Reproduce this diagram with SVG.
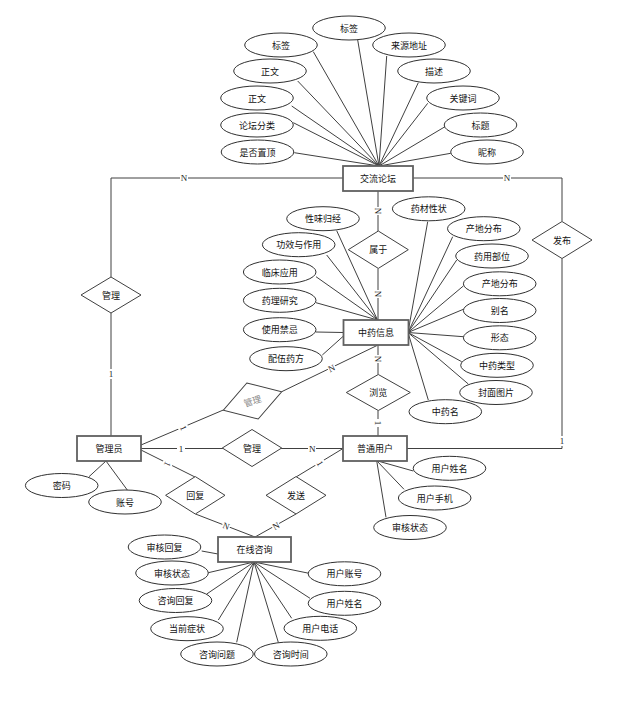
<svg xmlns="http://www.w3.org/2000/svg" width="637" height="707" viewBox="0 0 637 707">
<style>
.bg{fill:#ffffff}
.ln{stroke:#404040;stroke-width:1;fill:none}
.ent{fill:#ffffff;stroke:#606060;stroke-width:1.8}
.att{fill:#ffffff;stroke:#303030;stroke-width:1}
.rel{fill:#ffffff;stroke:#404040;stroke-width:1}
.t{font-family:"Noto Sans CJK SC","Noto Sans",sans-serif;font-size:9px;fill:#111;text-anchor:middle;dominant-baseline:central}
.g{fill:#8a8a8a}
.c{font-family:"Liberation Serif",serif;font-size:9px;fill:#222;text-anchor:middle;dominant-baseline:central}
.cb{fill:#ffffff}
</style>
<rect class="bg" x="0" y="0" width="637" height="707"/>
<g id="connectors">
<polyline class="ln" points="343,178 111,178 111,277"/>
<line class="ln" x1="111" y1="313" x2="111" y2="436"/>
<polyline class="ln" points="413,178 562,178 562,221"/>
<polyline class="ln" points="562,258.5 562,448.5 407,448.5"/>
<line class="ln" x1="378" y1="191" x2="378" y2="231"/>
<line class="ln" x1="378" y1="268.5" x2="378" y2="320"/>
<line class="ln" x1="378" y1="345" x2="378" y2="374.5"/>
<line class="ln" x1="378" y1="410.5" x2="378" y2="436"/>
<line class="ln" x1="377" y1="345.5" x2="281.7" y2="391.7"/>
<line class="ln" x1="141" y1="445" x2="223.3" y2="410"/>
<line class="ln" x1="141" y1="448.5" x2="343" y2="448.5"/>
<line class="ln" x1="141" y1="450" x2="195" y2="477"/>
<line class="ln" x1="195.5" y1="514" x2="255" y2="537"/>
<line class="ln" x1="343" y1="448.5" x2="296" y2="477"/>
<line class="ln" x1="296" y1="514" x2="255" y2="537"/>
<!-- forum attributes -->
<line class="ln" x1="357.7" y1="40" x2="379" y2="166"/>
<line class="ln" x1="313.3" y1="51.7" x2="379" y2="166"/>
<line class="ln" x1="386.7" y1="56" x2="379" y2="166"/>
<line class="ln" x1="297.7" y1="81" x2="379" y2="166"/>
<line class="ln" x1="418.3" y1="82.7" x2="379" y2="166"/>
<line class="ln" x1="291.7" y1="106" x2="379" y2="166"/>
<line class="ln" x1="427.7" y1="103.3" x2="379" y2="166"/>
<line class="ln" x1="293.3" y1="122.7" x2="379" y2="166"/>
<line class="ln" x1="445" y1="126.7" x2="379" y2="166"/>
<line class="ln" x1="294.3" y1="152.7" x2="379" y2="166"/>
<line class="ln" x1="450.7" y1="153.3" x2="379" y2="166"/>
<!-- medicine attributes -->
<line class="ln" x1="336.7" y1="230.7" x2="377.5" y2="320"/>
<line class="ln" x1="326.7" y1="255" x2="377.5" y2="320"/>
<line class="ln" x1="316" y1="276.7" x2="377.5" y2="320"/>
<line class="ln" x1="316" y1="302.7" x2="377.5" y2="320"/>
<line class="ln" x1="316" y1="332" x2="343.5" y2="332.5"/>
<line class="ln" x1="322.3" y1="355" x2="343.5" y2="336"/>
<line class="ln" x1="427.7" y1="221.7" x2="408" y2="332.5"/>
<line class="ln" x1="452.7" y1="236.7" x2="408" y2="332.5"/>
<line class="ln" x1="456.7" y1="260" x2="408" y2="332.5"/>
<line class="ln" x1="463.3" y1="286" x2="408" y2="332.5"/>
<line class="ln" x1="463.3" y1="309.3" x2="408" y2="332.5"/>
<line class="ln" x1="463.3" y1="336.7" x2="408" y2="332.5"/>
<line class="ln" x1="461.7" y1="361.7" x2="408" y2="332.5"/>
<line class="ln" x1="468.3" y1="384" x2="408" y2="332.5"/>
<line class="ln" x1="428.3" y1="400" x2="408" y2="332.5"/>
<!-- user attributes -->
<line class="ln" x1="413.3" y1="471" x2="376.7" y2="460.7"/>
<line class="ln" x1="404" y1="489.3" x2="376.7" y2="460.7"/>
<line class="ln" x1="386" y1="517.3" x2="376.7" y2="460.7"/>
<!-- admin attributes -->
<line class="ln" x1="89" y1="476.7" x2="106" y2="461"/>
<line class="ln" x1="127.3" y1="490" x2="106" y2="461"/>
<!-- consult attributes -->
<line class="ln" x1="201.7" y1="551" x2="218" y2="554"/>
<line class="ln" x1="208.3" y1="572.7" x2="254" y2="562"/>
<line class="ln" x1="206.7" y1="594" x2="254" y2="562"/>
<line class="ln" x1="218.3" y1="620" x2="254" y2="562"/>
<line class="ln" x1="236.7" y1="642.3" x2="254" y2="562"/>
<line class="ln" x1="278.3" y1="642.3" x2="254" y2="562"/>
<line class="ln" x1="291.7" y1="618.3" x2="254" y2="562"/>
<line class="ln" x1="310" y1="598.3" x2="254" y2="562"/>
<line class="ln" x1="309" y1="573.3" x2="254" y2="562"/>
<!-- cardinality labels -->
<g>
<rect class="cb" x="180" y="173" width="8" height="10"/><text class="c" x="184" y="178">N</text>
<rect class="cb" x="503" y="173" width="8" height="10"/><text class="c" x="507" y="178">N</text>
<rect class="cb" x="107" y="369" width="8" height="10"/><text class="c" x="111" y="374">1</text>
<rect class="cb" x="558" y="436" width="8" height="10"/><text class="c" x="562" y="441">1</text>
<rect class="cb" x="373" y="207" width="10" height="8"/><text class="c" transform="rotate(90 378 211)" x="378" y="211">N</text>
<rect class="cb" x="373" y="290" width="10" height="8"/><text class="c" transform="rotate(90 378 294)" x="378" y="294">N</text>
<rect class="cb" x="373" y="355" width="10" height="8"/><text class="c" transform="rotate(90 378 359)" x="378" y="359">N</text>
<rect class="cb" x="373" y="419" width="10" height="8"/><text class="c" transform="rotate(90 378 423)" x="378" y="423">1</text>
<g transform="rotate(-25.8 331.7 368.3)"><rect class="cb" x="327.7" y="363.3" width="8" height="10"/><text class="c" x="331.7" y="368.3">N</text></g>
<g transform="rotate(67 183.3 428)"><rect class="cb" x="179.3" y="423" width="8" height="10"/><text class="c" x="183.3" y="428">1</text></g>
<rect class="cb" x="177" y="443.5" width="8" height="10"/><text class="c" x="181" y="448.5">1</text>
<rect class="cb" x="308" y="443.5" width="8" height="10"/><text class="c" x="312.3" y="448.5">N</text>
<g transform="rotate(116.6 167.3 464)"><rect class="cb" x="163.3" y="459" width="8" height="10"/><text class="c" x="167.3" y="464">1</text></g>
<g transform="rotate(21 226 526)"><rect class="cb" x="222" y="521" width="8" height="10"/><text class="c" x="226" y="526">N</text></g>
<g transform="rotate(-29.3 276 526)"><rect class="cb" x="272" y="521" width="8" height="10"/><text class="c" x="276" y="526">N</text></g>
<g transform="rotate(59 320 463.3)"><rect class="cb" x="316" y="458.3" width="8" height="10"/><text class="c" x="320" y="463.3">1</text></g>
</g>
</g>
<!-- entities -->
<g id="forum"><rect class="ent" x="343" y="166" width="70" height="25"/><text class="t" x="378" y="178.5">交流论坛</text></g>
<g id="medicine"><rect class="ent" x="343.5" y="320" width="65" height="25"/><text class="t" x="376" y="332.5">中药信息</text></g>
<g id="user"><rect class="ent" x="343" y="436" width="64" height="25"/><text class="t" x="375" y="448.5">普通用户</text></g>
<g id="admin"><rect class="ent" x="77" y="436" width="64" height="25"/><text class="t" x="109" y="448.5">管理员</text></g>
<g id="consult"><rect class="ent" x="218" y="537" width="73" height="25"/><text class="t" x="254.5" y="549.5">在线咨询</text></g>
<!-- relationships -->
<g id="rel-manage-forum"><polygon class="rel" points="111,277 141,295 111,313 81,295"/><text class="t" x="111" y="295">管理</text></g>
<g id="rel-publish"><polygon class="rel" points="562,221.5 592,240 562,258.5 532,240"/><text class="t" x="562" y="240">发布</text></g>
<g id="rel-belong"><polygon class="rel" points="378.3,231 408.3,249.7 378.3,268.4 348.3,249.7"/><text class="t" x="378.3" y="249.7">属于</text></g>
<g id="rel-browse"><polygon class="rel" points="378.3,374.5 410.3,392.5 378.3,410.5 346.3,392.5"/><text class="t" x="378.3" y="392.5">浏览</text></g>
<g id="rel-manage-med" transform="rotate(-17.5 252.5 401)"><polygon class="rel" points="252.5,382.1 283.1,401 252.5,419.9 221.9,401"/><text class="t g" x="252.5" y="401">管理</text></g>
<g id="rel-manage-user"><polygon class="rel" points="252,429.5 281.7,448 252,466.5 222.3,448"/><text class="t" x="252" y="448">管理</text></g>
<g id="rel-reply"><polygon class="rel" points="195.3,476.6 225,495.3 195.3,514 165.6,495.3"/><text class="t" x="195.3" y="495.3">回复</text></g>
<g id="rel-send"><polygon class="rel" points="296,476.6 326,495.3 296,514 266,495.3"/><text class="t" x="296" y="495.3">发送</text></g>
<!-- forum attributes -->
<g id="fa1"><ellipse class="att" cx="349" cy="28" rx="36.3" ry="12"/><text class="t" x="349" y="28">标签</text></g>
<g id="fa2"><ellipse class="att" cx="281" cy="45" rx="36.3" ry="12"/><text class="t" x="281" y="45">标签</text></g>
<g id="fa3"><ellipse class="att" cx="409" cy="45" rx="36.3" ry="12"/><text class="t" x="409" y="45">来源地址</text></g>
<g id="fa4"><ellipse class="att" cx="270" cy="71" rx="36.3" ry="12"/><text class="t" x="270" y="71">正文</text></g>
<g id="fa5"><ellipse class="att" cx="434" cy="71" rx="36.3" ry="12"/><text class="t" x="434" y="71">描述</text></g>
<g id="fa6"><ellipse class="att" cx="257" cy="98" rx="36.3" ry="12"/><text class="t" x="257" y="98">正文</text></g>
<g id="fa7"><ellipse class="att" cx="463" cy="98" rx="36.3" ry="12"/><text class="t" x="463" y="98">关键词</text></g>
<g id="fa8"><ellipse class="att" cx="257" cy="125" rx="36.3" ry="12"/><text class="t" x="257" y="125">论坛分类</text></g>
<g id="fa9"><ellipse class="att" cx="480.5" cy="125" rx="36.3" ry="12"/><text class="t" x="480.5" y="125">标题</text></g>
<g id="fa10"><ellipse class="att" cx="257.5" cy="152" rx="36.3" ry="12"/><text class="t" x="257.5" y="152">是否置顶</text></g>
<g id="fa11"><ellipse class="att" cx="487" cy="152" rx="36.3" ry="12"/><text class="t" x="487" y="152">昵称</text></g>
<!-- medicine attributes -->
<g id="ma1"><ellipse class="att" cx="323" cy="218.7" rx="36.3" ry="12"/><text class="t" x="323" y="218.7">性味归经</text></g>
<g id="ma2"><ellipse class="att" cx="298.7" cy="244.7" rx="36.3" ry="12"/><text class="t" x="298.7" y="244.7">功效与作用</text></g>
<g id="ma3"><ellipse class="att" cx="279.7" cy="272" rx="36.3" ry="12"/><text class="t" x="279.7" y="272">临床应用</text></g>
<g id="ma4"><ellipse class="att" cx="279.7" cy="300.3" rx="36.3" ry="12"/><text class="t" x="279.7" y="300.3">药理研究</text></g>
<g id="ma5"><ellipse class="att" cx="279.7" cy="329.7" rx="36.3" ry="12"/><text class="t" x="279.7" y="329.7">使用禁忌</text></g>
<g id="ma6"><ellipse class="att" cx="286" cy="358.7" rx="36.3" ry="12"/><text class="t" x="286" y="358.7">配伍药方</text></g>
<g id="ma7"><ellipse class="att" cx="428.7" cy="208.8" rx="36.3" ry="12"/><text class="t" x="428.7" y="208.8">药材性状</text></g>
<g id="ma8"><ellipse class="att" cx="483.8" cy="228.7" rx="36.3" ry="12"/><text class="t" x="483.8" y="228.7">产地分布</text></g>
<g id="ma9"><ellipse class="att" cx="492" cy="256" rx="36.3" ry="12"/><text class="t" x="492" y="256">药用部位</text></g>
<g id="ma10"><ellipse class="att" cx="499.7" cy="283.8" rx="36.3" ry="12"/><text class="t" x="499.7" y="283.8">产地分布</text></g>
<g id="ma11"><ellipse class="att" cx="499.7" cy="310.5" rx="36.3" ry="12"/><text class="t" x="499.7" y="310.5">别名</text></g>
<g id="ma12"><ellipse class="att" cx="499.7" cy="337.8" rx="36.3" ry="12"/><text class="t" x="499.7" y="337.8">形态</text></g>
<g id="ma13"><ellipse class="att" cx="497" cy="365.3" rx="36.3" ry="12"/><text class="t" x="497" y="365.3">中药类型</text></g>
<g id="ma14"><ellipse class="att" cx="496" cy="392.5" rx="36.3" ry="12"/><text class="t" x="496" y="392.5">封面图片</text></g>
<g id="ma15"><ellipse class="att" cx="445.3" cy="411.7" rx="36.3" ry="12"/><text class="t" x="445.3" y="411.7">中药名</text></g>
<!-- user attributes -->
<g id="ua1"><ellipse class="att" cx="449.5" cy="468.3" rx="36.3" ry="12"/><text class="t" x="449.5" y="468.3">用户姓名</text></g>
<g id="ua2"><ellipse class="att" cx="434.7" cy="498" rx="36.3" ry="12"/><text class="t" x="434.7" y="498">用户手机</text></g>
<g id="ua3"><ellipse class="att" cx="410" cy="527.5" rx="36.3" ry="12"/><text class="t" x="410" y="527.5">审核状态</text></g>
<!-- admin attributes -->
<g id="aa1"><ellipse class="att" cx="61.7" cy="485.5" rx="36.3" ry="12"/><text class="t" x="61.7" y="485.5">密码</text></g>
<g id="aa2"><ellipse class="att" cx="125" cy="502" rx="36.3" ry="12"/><text class="t" x="125" y="502">账号</text></g>
<!-- consult attributes -->
<g id="ca1"><ellipse class="att" cx="164.5" cy="547" rx="36.3" ry="12"/><text class="t" x="164.5" y="547">审核回复</text></g>
<g id="ca2"><ellipse class="att" cx="172" cy="573" rx="36.3" ry="12"/><text class="t" x="172" y="573">审核状态</text></g>
<g id="ca3"><ellipse class="att" cx="175.5" cy="600.5" rx="36.3" ry="12"/><text class="t" x="175.5" y="600.5">咨询回复</text></g>
<g id="ca4"><ellipse class="att" cx="187" cy="628.7" rx="36.3" ry="12"/><text class="t" x="187" y="628.7">当前症状</text></g>
<g id="ca5"><ellipse class="att" cx="217" cy="654" rx="36.3" ry="12"/><text class="t" x="217" y="654">咨询问题</text></g>
<g id="ca6"><ellipse class="att" cx="290.8" cy="654" rx="36.3" ry="12"/><text class="t" x="290.8" y="654">咨询时间</text></g>
<g id="ca7"><ellipse class="att" cx="320.3" cy="628.3" rx="36.3" ry="12"/><text class="t" x="320.3" y="628.3">用户电话</text></g>
<g id="ca8"><ellipse class="att" cx="344.5" cy="603.3" rx="36.3" ry="12"/><text class="t" x="344.5" y="603.3">用户姓名</text></g>
<g id="ca9"><ellipse class="att" cx="344.5" cy="573.8" rx="36.3" ry="12"/><text class="t" x="344.5" y="573.8">用户账号</text></g>
</svg>
